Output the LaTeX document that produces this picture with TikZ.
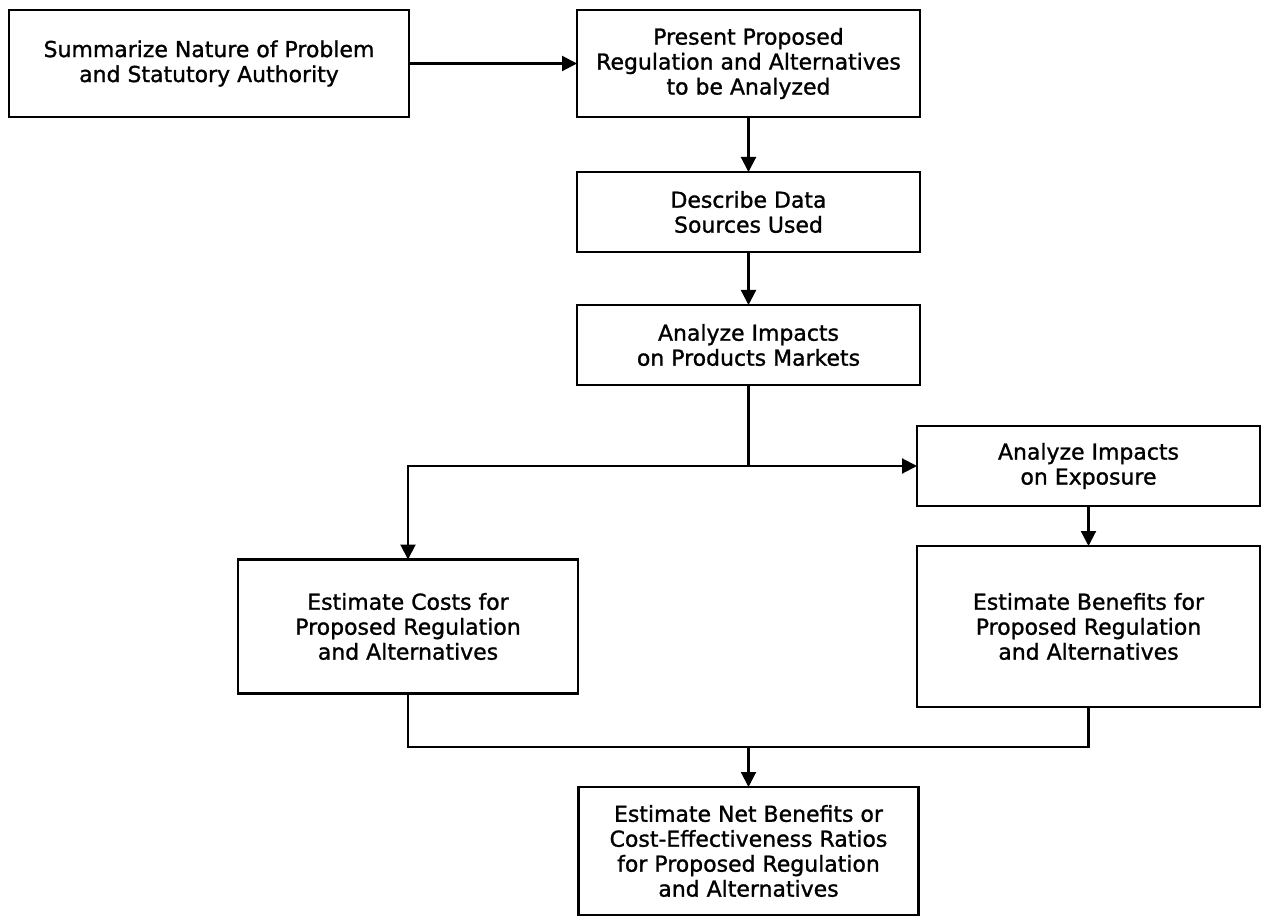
\documentclass[tikz,border=0pt]{standalone}
\usepackage{fontspec}
\setmainfont{DejaVu Sans}
\newfontfamily\boxfont{DejaVu Sans}[FakeBold=1.2]
\usepackage{tikz}
\usetikzlibrary{arrows.meta,positioning}

\begin{document}
\begin{tikzpicture}[
  node distance=11mm and 33.6mm,
  box/.style={draw=black, line width=1.5pt, outer sep=0pt, minimum width=68.6mm, minimum height=16mm, align=center, inner sep=2mm, font=\boxfont\fontsize{12.5}{14.2}\selectfont},
  wide/.style={box, minimum width=80mm, minimum height=21.4mm},
  line/.style={line width=1.2pt, draw=black},
  arrow/.style={line, -{Triangle[length=3mm,width=3mm]}}
]
\node[wide] (summ) {Summarize Nature of Problem\\and Statutory Authority};
\useasboundingbox ([shift={(-1.8mm,2mm)}]summ.north west) rectangle ++(253mm,-183.6mm);
\node[box, minimum height=21.4mm, right=of summ] (present) {Present Proposed\\Regulation and Alternatives\\to be Analyzed};
\node[box, below=of present] (sources) {Describe Data\\Sources Used};
\node[box, below=10.6mm of sources] (markets) {Analyze Impacts\\on Products Markets};
\node[box, below right=8.2mm and -0.6mm of markets] (exposure) {Analyze Impacts\\on Exposure};
\node[box, minimum height=32.2mm, below=8mm of exposure] (benefits) {Estimate Benefits for\\Proposed Regulation\\and Alternatives};
\node[box, minimum width=68mm, minimum height=26.8mm, left=67.8mm of benefits] (costs) {Estimate Costs for\\Proposed Regulation\\and Alternatives};

% junctions of the branching lines
\coordinate (split) at (markets |- exposure);
\coordinate (mid) at (benefits.south -| markets);
\coordinate[below=8mm of mid] (merge);
\node[box, minimum width=68mm, minimum height=25.6mm, below=16mm of mid] (net) {Estimate Net Benefits or\\Cost-Effectiveness Ratios\\for Proposed Regulation\\and Alternatives};

\draw[arrow] (summ) -- (present);
\draw[arrow] (present) -- (sources);
\draw[arrow] (sources) -- (markets);
\draw[arrow] (markets) -- (split) -- (exposure);
\draw[arrow] (split) -| (costs);
\draw[arrow] (exposure) -- (benefits);
\draw[line] (costs) |- (merge);
\draw[line] (benefits) |- (merge);
\draw[arrow] (merge) -- (net);
\end{tikzpicture}
\end{document}
